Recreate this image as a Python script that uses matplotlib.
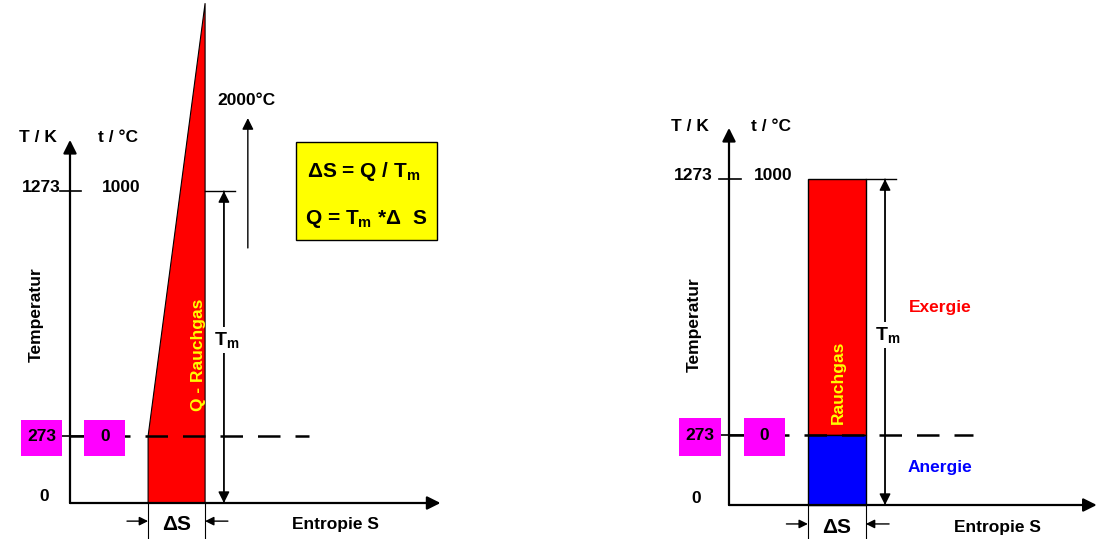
import matplotlib
matplotlib.use("Agg")
import matplotlib.pyplot as plt
from matplotlib.patches import Polygon, Rectangle

plt.rcParams['font.family'] = ['Liberation Sans', 'DejaVu Sans']
plt.rcParams['font.weight'] = 'bold'
plt.rcParams['mathtext.fontset'] = 'custom'
plt.rcParams['mathtext.rm'] = 'Liberation Sans:bold'
plt.rcParams['mathtext.it'] = 'Liberation Sans:bold'
plt.rcParams['mathtext.bf'] = 'Liberation Sans:bold'

# Temperaturen (K) und Entropie (willkuerliche Einheiten)
T_umg = 273        # 0 degC
T_max = 1273       # 1000 degC
T_top = 2040       # Rauchgas-Anfang (links, laeuft aus dem Bild)
S0, S1 = 1.37, 2.37
S_right0, S_right1 = 1.36, 2.36

K_labels = ['1273', '273', '0']
C_labels = ['1000', '0']

fig = plt.figure(figsize=(10.99, 5.39), dpi=100)
axL = fig.add_axes([0, 0, 550 / 1099, 1])
axR = fig.add_axes([550 / 1099, 0, 549 / 1099, 1])

# Datenbereich so, dass 1 Einheit S = 57 px, 1 K = 0.245 px (links)
axL.set_xlim(-70 / 57, 480 / 57)
axL.set_ylim(-36 / 0.245, 503 / 0.245)
axR.set_xlim(-179 / 58, 370 / 58)
axR.set_ylim(-34 / 0.256, 505 / 0.256)
for ax in (axL, axR):
    ax.axis('off')

arrow = dict(arrowstyle='-|>', color='black', lw=1.6, mutation_scale=20, shrinkA=0, shrinkB=0)
thin_arrow = dict(arrowstyle='-|>', color='black', lw=1.0, mutation_scale=17, shrinkA=0, shrinkB=0)
small_arrow = dict(arrowstyle='-|>', color='black', lw=1.0, mutation_scale=13, shrinkA=0, shrinkB=0)
fs = 12.5


def axes_frame(ax, x_end, y_end, sa, sb, kx, cx, lbl_y, temp_y, ent_x):
    ax.annotate('', xy=(0, y_end), xytext=(0, 0), arrowprops=arrow)
    ax.annotate('', xy=(x_end, 0), xytext=(0, 0), arrowprops=arrow)
    ax.plot([-0.17, 0.2], [T_max, T_max], color='black', lw=1.2)
    ax.plot([-0.14, 0.25], [T_umg, T_umg], color='black', lw=1.2)
    ax.plot([0, 4.2], [T_umg, T_umg], color='black', lw=1.8, dashes=(9, 6), zorder=3)
    ax.text(kx, lbl_y, 'T / K', ha='center', va='center', fontsize=fs)
    ax.text(cx, lbl_y, 't / °C', ha='center', va='center', fontsize=fs)
    ax.text(kx + 0.05, T_max + 15, K_labels[0], ha='center', va='center', fontsize=fs)
    ax.text(cx + 0.05, T_max + 15, C_labels[0], ha='center', va='center', fontsize=fs)
    ax.text(kx + 0.1, 25, K_labels[2], ha='center', va='center', fontsize=fs)
    # magenta Kaesten
    ax.add_patch(Rectangle((-0.86, 193), 0.72, 145, facecolor='#ff00ff', edgecolor='none', zorder=4))
    ax.add_patch(Rectangle((0.25, 193), 0.72, 145, facecolor='#ff00ff', edgecolor='none', zorder=4))
    ax.text(-0.5, T_umg, K_labels[1], ha='center', va='center', fontsize=fs, zorder=5)
    ax.text(0.61, T_umg, C_labels[1], ha='center', va='center', fontsize=fs, zorder=5)
    ax.text(-0.6, temp_y, 'Temperatur', rotation=90, ha='center', va='center', fontsize=fs)
    ax.text(ent_x, -86, 'Entropie S', ha='center', va='center', fontsize=fs)
    # Delta S
    ax.plot([sa, sa], [0, -200], color='black', lw=0.8)
    ax.plot([sb, sb], [0, -200], color='black', lw=0.8)
    ax.annotate('', xy=(sa, -74), xytext=(sa - 0.37, -74), arrowprops=small_arrow)
    ax.annotate('', xy=(sb, -74), xytext=(sb + 0.4, -74), arrowprops=small_arrow)
    ax.text((sa + sb) / 2, -86, 'ΔS', ha='center', va='center', fontsize=15)


def tm_arrow(ax, x, x0, x1, y_lbl):
    ax.plot([x0, x1], [T_max, T_max], color='black', lw=1.0)
    ax.annotate('', xy=(x, T_max), xytext=(x, 0), arrowprops=thin_arrow)
    ax.annotate('', xy=(x, 0), xytext=(x, T_max), arrowprops=thin_arrow)
    ax.text(x + 0.05, y_lbl, r'$\mathrm{T}_\mathrm{m}$', ha='center', va='center', fontsize=14,
            bbox=dict(facecolor='white', edgecolor='none', pad=2))


# ---------- links ----------
axes_frame(axL, 6.5, 1482, S0, S1, -0.56, 0.85, 1490, 767, 4.65)
axL.add_patch(Polygon([(S0, 0), (S0, T_umg), (S1, T_top), (S1, 0)], closed=True,
                      facecolor='#ff0000', edgecolor='black', lw=0.8, zorder=2))
axL.text(2.25, 604, 'Q - Rauchgas', rotation=90, ha='center', va='center', fontsize=fs, color='#ffff00')
tm_arrow(axL, 2.70, S1, 2.89, 665)
axL.annotate('', xy=(3.12, 1571), xytext=(3.12, 1041), arrowprops=thin_arrow)
axL.text(3.1, 1641, '2000°C', ha='center', va='center', fontsize=fs)
axL.add_patch(Rectangle((3.96, 1073), 2.48, 400, facecolor='#ffff00', edgecolor='black', lw=1.0))
axL.text(5.15, 1355, r'ΔS = Q / T$_\mathrm{m}$', ha='center', va='center', fontsize=15)
axL.text(5.2, 1160, r'Q = T$_\mathrm{m}$ *Δ  S', ha='center', va='center', fontsize=15)

# ---------- rechts ----------
axes_frame(axR, 6.34, 1473, S_right0, S_right1, -0.67, 0.72, 1480, 703, 4.62)
axR.add_patch(Rectangle((S_right0, T_umg), S_right1 - S_right0, T_max - T_umg,
                        facecolor='#ff0000', edgecolor='black', lw=1.0, zorder=2))
axR.add_patch(Rectangle((S_right0, 0), S_right1 - S_right0, T_umg,
                        facecolor='#0000ff', edgecolor='black', lw=1.0, zorder=2))
axR.text(1.88, 480, 'Rauchgas', rotation=90, ha='center', va='center', fontsize=fs, color='#ffff00')
tm_arrow(axR, 2.69, S_right1, 2.88, 664)
axR.text(3.64, 773, 'Exergie', ha='center', va='center', fontsize=fs, color='#ff0000')
axR.text(3.64, 145, 'Anergie', ha='center', va='center', fontsize=fs, color='#0000ff')

fig.savefig('out.png', dpi=100)
